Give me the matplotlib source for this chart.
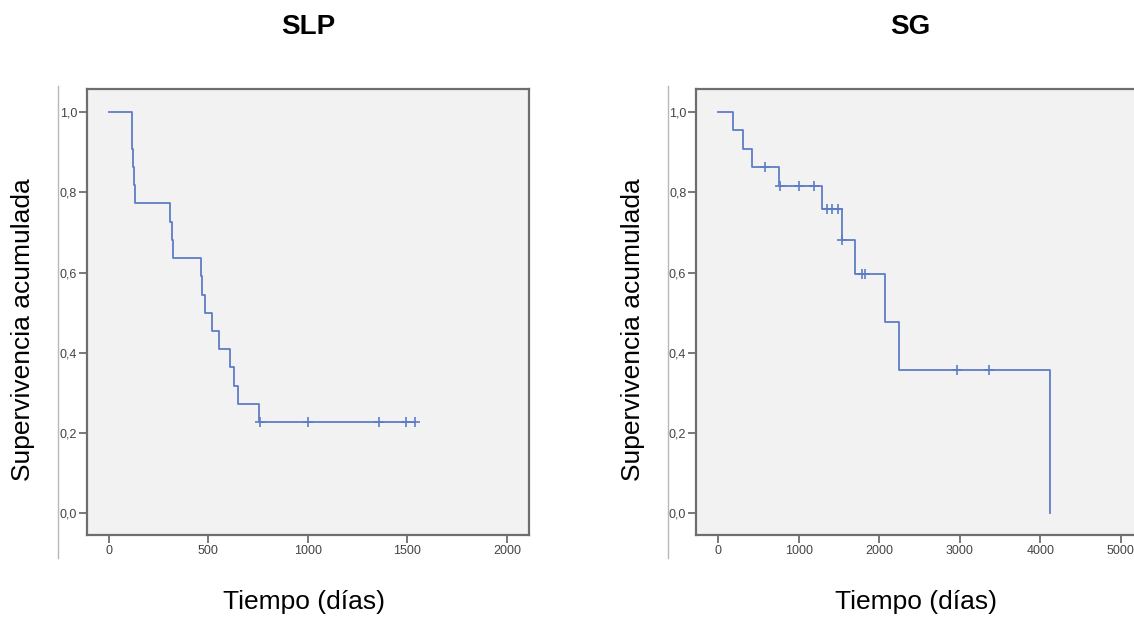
import matplotlib.pyplot as plt

plt.rcParams['font.family'] = ['Liberation Sans', 'DejaVu Sans']

# SLP: Kaplan-Meier steps (time in days, cumulative survival)
slp_time = [0, 115, 118, 122, 126, 130, 308, 318, 322, 466, 471, 483, 520, 555, 609, 629, 647, 754, 1540]
slp_surv = [1.0, 0.955, 0.909, 0.864, 0.818, 0.773, 0.727, 0.682, 0.636, 0.591, 0.545, 0.500,
            0.455, 0.409, 0.364, 0.318, 0.273, 0.227, 0.227]
slp_cens_time = [759, 1003, 1356, 1491, 1537]
slp_cens_surv = [0.227, 0.227, 0.227, 0.227, 0.227]

# SG
sg_time = [0, 183, 307, 415, 751, 1294, 1534, 1699, 2072, 2249, 4116]
sg_surv = [1.0, 0.955, 0.909, 0.864, 0.816, 0.758, 0.682, 0.597, 0.477, 0.358, 0.0]
sg_cens_time = [577, 763, 1004, 1191, 1351, 1413, 1488, 1534, 1791, 1824, 2962, 3365]
sg_cens_surv = [0.864, 0.816, 0.816, 0.816, 0.758, 0.758, 0.758, 0.682, 0.597, 0.597, 0.358, 0.358]

line_col = '#5e7cc6'
spine_col = '#6e6e6e'
text_col = '#444444'

fig = plt.figure(figsize=(11.34, 6.19), dpi=100)
W, H = 1134, 619


def setup(ax, xmax, xticks):
    ax.set_facecolor('#f2f2f2')
    ax.set_xlim(-xmax * 0.055, xmax * 1.055)
    ax.set_ylim(-0.054, 1.058)
    ax.set_xticks(xticks)
    ax.set_xticklabels([str(t) for t in xticks])
    ax.set_yticks([0, 0.2, 0.4, 0.6, 0.8, 1.0])
    ax.set_yticklabels(['0,0', '0,2', '0,4', '0,6', '0,8', '1,0'])
    ax.tick_params(direction='out', length=6, width=1.3, color=spine_col,
                   labelsize=9, labelcolor=text_col, pad=1)
    for s in ax.spines.values():
        s.set_color(spine_col)
        s.set_linewidth(1.6)


def curve(ax, t, s, ct, cs):
    ax.step(t, s, where='post', color=line_col, lw=1.3)
    ax.plot(ct, cs, linestyle='none', marker='+', markersize=7, mew=1.2, color=line_col)


ax1 = fig.add_axes([86.7 / W, 1 - 535 / H, 442.3 / W, 446 / H])
setup(ax1, 2000, [0, 500, 1000, 1500, 2000])
curve(ax1, slp_time, slp_surv, slp_cens_time, slp_cens_surv)

ax2 = fig.add_axes([696 / W, 1 - 535 / H, 447 / W, 446 / H])
setup(ax2, 5000, [0, 1000, 2000, 3000, 4000, 5000])
curve(ax2, sg_time, sg_surv, sg_cens_time, sg_cens_surv)

# thin frame lines at left of each panel image
for x in (58, 668):
    fig.add_artist(plt.Line2D([x / W, x / W], [1 - 86 / H, 1 - 558 / H],
                              color='#b8b8b8', lw=1))

fig.text(308 / W, 1 - 27 / H, 'SLP', ha='center', va='center', fontsize=20, fontweight='bold')
fig.text(910 / W, 1 - 27 / H, 'SG', ha='center', va='center', fontsize=20, fontweight='bold')

for x in (304, 916):
    fig.text(x / W, 1 - 602 / H, 'Tiempo (días)', ha='center', va='center', fontsize=19)
for x in (23, 633):
    fig.text(x / W, 1 - 330 / H, 'Supervivencia acumulada', ha='center', va='center',
             rotation=90, fontsize=19)

fig.savefig('out.png', dpi=100)
